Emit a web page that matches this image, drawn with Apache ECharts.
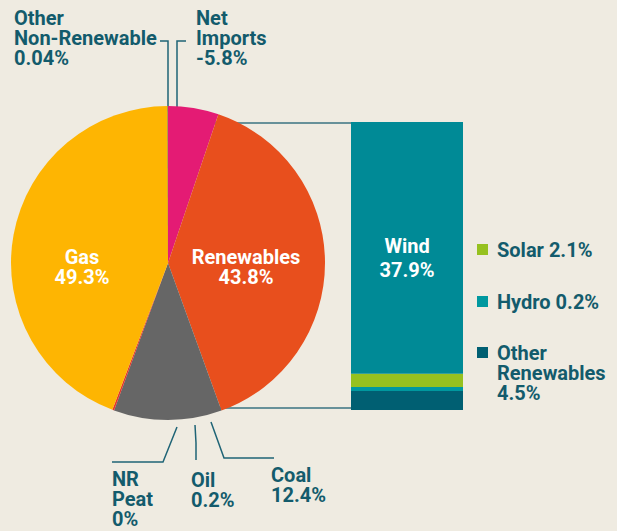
<!DOCTYPE html>
<html><head><meta charset="utf-8">
<script src="https://cdn.jsdelivr.net/npm/echarts@6/dist/echarts.min.js"></script>
<style>html,body{margin:0;padding:0;background:#efebe1;}#c{width:617px;height:531px;}</style>
</head><body><div id="c"></div>
<script>
// Pie (clockwise from 12 o'clock)
const pieNames = ['Net Imports', 'Renewables', 'Coal', 'NR Peat', 'Oil', 'Gas', 'Other Non-Renewable'];
const pieValues = [5.8, 43.8, 12.4, 0, 0.2, 49.3, 0.04];
const pieLabels = ['Net\nImports\n-5.8%', 'Renewables\n43.8%', 'Coal\n12.4%', 'NR\nPeat\n0%', 'Oil\n0.2%', 'Gas\n49.3%', 'Other\nNon-Renewable\n0.04%'];
// Renewables breakdown bar (bottom to top), segment sizes as drawn
const barNames = ['Other Renewables', 'Hydro', 'Solar', 'Wind'];
const barValues = [2.9, 0.6, 2.0, 38.3];
const barLabels = ['\n\nOther\nRenewables\n4.5%', 'Hydro 0.2%', 'Solar 2.1%', 'Wind\n37.9%'];

const pieColors = ['#e41b74', '#e84f1d', '#666666', '#8a8a8a', '#e5352a', '#feb502', '#2a3d44'];
const barColors = ['#005f72', '#00989f', '#96c11f', '#008a96'];
const TXT = '#135b6c';
const FONT = 'Roboto';

// label placement (annotation layout)
const pieLabelPos = {
  0: {x: 196, y: 8, align: 'left', pts: [[177, 107], [177, 41], [186, 41]]},
  1: {x: 246, y: 247, align: 'center'},
  2: {x: 271, y: 465, align: 'left', pts: [[211, 422], [224, 458], [274, 458]]},
  3: {x: 112, y: 469, align: 'left', pts: [[177, 427], [163, 462], [112, 462]]},
  4: {x: 191, y: 470, align: 'left', pts: [[195, 425], [196, 443], [196, 460]]},
  5: {x: 82, y: 247, align: 'center'},
  6: {x: 14, y: 8, align: 'left', pts: [[168, 106], [168, 41], [160, 41]]}
};
const insideIdx = [1, 5];

const chart = echarts.init(document.getElementById('c'), null, {renderer: 'svg'});
const barSum = barValues.reduce((a, b) => a + b, 0);
const legendText = {color: TXT, fontSize: 20, fontWeight: 'bold', lineHeight: 20, fontFamily: FONT, padding: [0, 0, 0, 4]};

const option = {
  backgroundColor: '#efebe1',
  animation: false,
  textStyle: {fontFamily: FONT},
  graphic: [
    {type: 'line', z: 0, silent: true, shape: {x1: 200, y1: 123, x2: 351, y2: 123}, style: {stroke: '#3a7380', lineWidth: 1.5}},
    {type: 'line', z: 0, silent: true, shape: {x1: 200, y1: 408, x2: 351, y2: 408}, style: {stroke: '#3a7380', lineWidth: 1.5}}
  ],
  grid: {left: 351, top: 122, width: 112, height: 288},
  xAxis: {type: 'category', data: ['Renewables'], show: false},
  yAxis: {type: 'value', min: 0, max: barSum, show: false},
  legend: [
    {data: ['Solar'], left: 477, top: 239.5},
    {data: ['Hydro'], left: 477, top: 291.5},
    {data: ['Other Renewables'], left: 477, top: 302.5}
  ].map(l => Object.assign({
    orient: 'vertical', padding: 0, icon: 'rect', itemWidth: 11, itemHeight: 11, selectedMode: false,
    formatter: n => barLabels[barNames.indexOf(n)],
    textStyle: legendText
  }, l)),
  series: [
    {
      type: 'pie', z: 3,
      center: [168, 263], radius: 157,
      startAngle: 90, clockwise: true,
      avoidLabelOverlap: false,
      emphasis: {disabled: true},
      data: pieNames.map((n, i) => ({
        name: n, value: pieValues[i],
        itemStyle: {color: pieColors[i]},
        label: insideIdx.includes(i) ? {color: '#ffffff'} : {color: TXT},
        labelLine: {show: !insideIdx.includes(i)}
      })),
      label: {
        show: true, position: 'outside',
        formatter: p => pieLabels[p.dataIndex],
        fontSize: 20, fontWeight: 'bold', lineHeight: 20, fontFamily: FONT
      },
      labelLine: {show: true, lineStyle: {color: '#1f6476', width: 1.5}},
      labelLayout: p => {
        const c = pieLabelPos[p.dataIndex];
        const r = {x: c.x, y: c.y, align: c.align, verticalAlign: 'top'};
        if (c.pts) r.labelLinePoints = c.pts;
        return r;
      }
    },
    ...barNames.map((n, i) => ({
      type: 'bar', name: n, stack: 'r', barWidth: '100%',
      data: [barValues[i]],
      itemStyle: {color: barColors[i]},
      emphasis: {disabled: true},
      label: n === 'Wind' ? {
        show: true, position: 'inside', offset: [0, 10],
        formatter: () => barLabels[i],
        color: '#ffffff', fontSize: 20, fontWeight: 'bold', lineHeight: 24, fontFamily: FONT
      } : {show: false}
    }))
  ]
};
chart.setOption(option);
</script>
</body></html>
